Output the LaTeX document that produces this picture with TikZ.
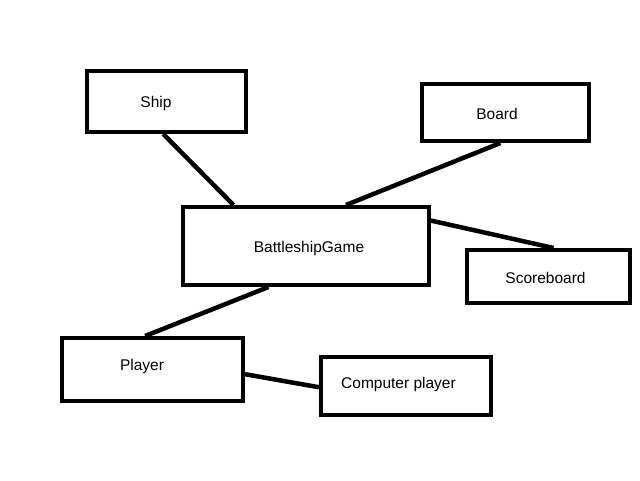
\documentclass[tikz,border=0pt]{standalone}
\usepackage{fontspec}
\setmainfont{Liberation Sans}
\usetikzlibrary{calc}

\tikzset{
  classbox/.style={draw, line width=4pt, inner sep=0pt, fill=white},
  assoc/.style={line width=4.5pt},
}

\begin{document}
\begin{tikzpicture}[x=1pt, y=-1pt, every label/.style={font=\fontsize{15.5}{18}\selectfont}]
      \useasboundingbox (0,0) rectangle (640,480);
      % classes
      \node[classbox, minimum width=159pt, minimum height=61pt,
        label={[xshift=-10.5pt, yshift=-2pt]center:Ship}] (ship) at (166.5,101.5) {};
      \node[classbox, minimum width=167pt, minimum height=57pt,
        label={[xshift=-8.5pt, yshift=-1.5pt]center:Board}] (board) at (505.5,112.5) {};
      \node[classbox, minimum width=246pt, minimum height=78pt,
        label={[xshift=3pt, yshift=-2.5pt]center:BattleshipGame}] (game) at (306,246) {};
      \node[classbox, minimum width=163pt, minimum height=53pt,
        label={[xshift=-3pt, yshift=-1pt]center:Scoreboard}] (score) at (548.5,276.5) {};
      \node[classbox, minimum width=181pt, minimum height=63pt,
        label={[xshift=-10.5pt, yshift=3.5pt]center:Player}] (player) at (152.5,369.5) {};
      \node[classbox, minimum width=170pt, minimum height=58pt,
        label={[xshift=-7.5pt, yshift=2pt]center:Computer player}] (comp) at (406,386) {};
      % links
      \draw[assoc] ($(ship.south west)!0.48!(ship.south east)$) -- ($(game.north west)!0.21!(game.north east)$);
      \draw[assoc] ($(board.south west)!0.47!(board.south east)$) -- ($(game.north west)!0.66!(game.north east)$);
      \draw[assoc] ($(game.north east)!0.19!(game.south east)$) -- ($(score.north west)!0.53!(score.north east)$);
      \draw[assoc] ($(game.south west)!0.35!(game.south east)$) -- ($(player.north west)!0.46!(player.north east)$);
      \draw[assoc] ($(player.north east)!0.57!(player.south east)$) -- ($(comp.north west)!0.52!(comp.south west)$);
    \end{tikzpicture}
\end{document}
